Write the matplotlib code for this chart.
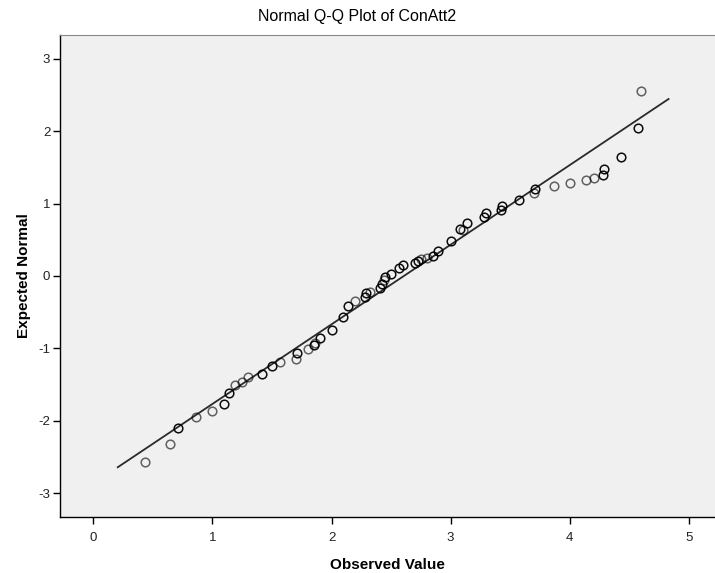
import matplotlib.pyplot as plt
import numpy as np

plt.rcParams['axes.unicode_minus'] = False

observado = [0.43, 0.64, 0.71, 0.86, 1.00, 1.10, 1.14, 1.19, 1.25, 1.30,
             1.42, 1.50, 1.57, 1.70, 1.71, 1.80, 1.85, 1.86, 1.90, 2.00,
             2.10, 2.14, 2.20, 2.28, 2.29, 2.32, 2.41, 2.42, 2.44, 2.45,
             2.50, 2.57, 2.60, 2.70, 2.73, 2.75, 2.80, 2.85, 2.89, 3.00,
             3.08, 3.10, 3.14, 3.28, 3.30, 3.42, 3.43, 3.57, 3.70, 3.71,
             3.87, 4.00, 4.14, 4.20, 4.28, 4.29, 4.43, 4.57, 4.60]
esperado = [-2.57, -2.32, -2.10, -1.95, -1.87, -1.77, -1.61, -1.50, -1.46, -1.39,
            -1.35, -1.25, -1.19, -1.15, -1.06, -1.01, -0.96, -0.92, -0.85, -0.74,
            -0.56, -0.41, -0.34, -0.29, -0.23, -0.22, -0.17, -0.11, -0.06, -0.02,
            0.03, 0.11, 0.15, 0.18, 0.21, 0.23, 0.25, 0.28, 0.35, 0.49,
            0.65, 0.64, 0.73, 0.81, 0.87, 0.91, 0.97, 1.05, 1.14, 1.20,
            1.25, 1.29, 1.32, 1.35, 1.40, 1.48, 1.65, 2.04, 2.56]
# how many cases sit on the same spot (darker circles)
repeticiones = [1, 1, 2, 1, 1, 2, 2, 1, 1, 1,
                2, 2, 1, 1, 2, 1, 2, 1, 2, 2,
                2, 2, 1, 2, 2, 1, 2, 2, 1, 2,
                2, 2, 2, 2, 2, 1, 1, 2, 2, 3,
                2, 1, 2, 2, 2, 2, 2, 3, 1, 2,
                1, 1, 1, 1, 2, 2, 3, 3, 1]

# reference line: mean and standard deviation of the observed values
media = 2.607
desv = 0.909
linea_x = [0.205, 4.83]

fig = plt.figure(figsize=(7.15, 5.73), dpi=100)
ax = fig.add_axes([60 / 715, 1 - 517 / 573, 655 / 715, 482 / 573])
ax.set_facecolor('#F0F0F0')

xs = np.array(linea_x)
ax.plot(xs, (xs - media) / desv, color='#2a2a2a', linewidth=1.3, zorder=2)

for xo, yo, n in zip(observado, esperado, repeticiones):
    alfa = min(0.4 * n + 0.2, 0.95)
    ax.plot(xo, yo, 'o', markersize=6.2, markerfacecolor='none',
            markeredgecolor='black', markeredgewidth=1.1, alpha=alfa, zorder=3)

ax.set_xlim(-0.28, 5.22)
ax.set_ylim(-3.33, 3.33)
ax.set_xticks([0, 1, 2, 3, 4, 5])
ax.set_yticks([-3, -2, -1, 0, 1, 2, 3])

for lado in ['left', 'bottom']:
    ax.spines[lado].set_color('black')
    ax.spines[lado].set_linewidth(1.0)
ax.spines['top'].set_color('#888888')
ax.spines['right'].set_visible(False)
ax.tick_params(direction='out', length=5, width=1, colors='black',
               labelsize=9.5, labelcolor='#222222')
ax.tick_params(axis='x', pad=6)
ax.tick_params(axis='y', pad=2)
for t in ax.get_xticklabels() + ax.get_yticklabels():
    t.set_family('Liberation Sans')

ax.set_xlabel('Observed Value', fontsize=11, fontweight='bold',
              family='Liberation Sans', labelpad=10)
ax.set_ylabel('Expected Normal', fontsize=11, fontweight='bold',
              family='Liberation Sans', labelpad=5)
fig.text(0.5, 1 - 17 / 573, 'Normal Q-Q Plot of ConAtt2', ha='center',
         va='center', fontsize=11.5, family='Liberation Sans')

fig.savefig('out.png', dpi=100)
